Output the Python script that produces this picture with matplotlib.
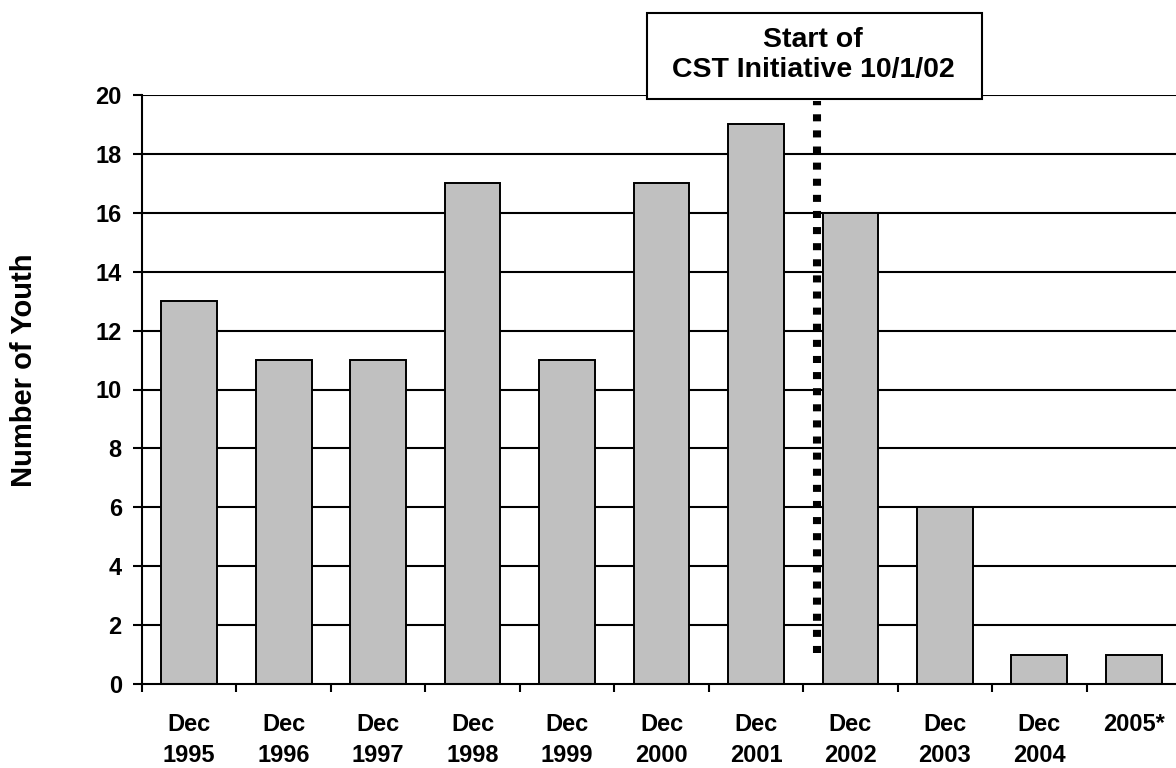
import matplotlib
matplotlib.use("Agg")
import matplotlib.pyplot as plt
from matplotlib.patches import Rectangle

categories = ["Dec\n1995", "Dec\n1996", "Dec\n1997", "Dec\n1998", "Dec\n1999",
              "Dec\n2000", "Dec\n2001", "Dec\n2002", "Dec\n2003", "Dec\n2004", "2005*"]
youth = [13, 11, 11, 17, 11, 17, 19, 16, 6, 1, 1]
y_ticks = list(range(0, 21, 2))
initiative_x = 6.647
initiative_label = "Start of\nCST Initiative 10/1/02"

plt.rcParams["font.family"] = ["Liberation Sans", "DejaVu Sans"]
plt.rcParams["font.weight"] = "bold"

fig = plt.figure(figsize=(11.76, 7.68), dpi=100)
ax = fig.add_axes([142 / 1176, 84 / 768, 1039 / 1176, 589 / 768])

x = list(range(len(categories)))
for t in y_ticks[1:]:
    ax.axhline(t, color="black", lw=1.5, zorder=0)
ax.bar(x, youth, width=0.59, color="#c0c0c0", edgecolor="black", lw=1.4, zorder=2)

# dotted marker for the start of the initiative
ax.plot([initiative_x, initiative_x], [1.05, 19.8], color="black", lw=5.8,
        linestyle=(0, (0.875, 1.125)), dash_capstyle="butt",
        zorder=3, clip_on=False)

ax.set_xlim(-0.5, len(categories) - 0.5)
ax.set_ylim(0, 20)
ax.set_yticks(y_ticks)
ax.set_yticklabels([str(v) for v in y_ticks], fontsize=17, fontweight="bold")
ax.set_xticks([i - 0.5 for i in range(len(categories))])
ax.set_xticklabels([])
ax.set_xticks(x, minor=True)
ax.set_xticklabels(categories, minor=True, fontsize=17, fontweight="bold",
                   linespacing=1.45, va="top")
ax.tick_params(axis="x", which="minor", length=0, pad=21)
ax.tick_params(axis="x", which="major", length=6, width=1.5, direction="out")
ax.tick_params(axis="y", length=6.5, width=1.5, direction="out", pad=8)

for s in ["top", "right"]:
    ax.spines[s].set_visible(False)
ax.spines["left"].set_linewidth(1.5)
ax.spines["bottom"].set_linewidth(1.5)

fig.text(24 / 1176, 1 - 370 / 768, "Number of Youth", rotation=90,
         ha="center", va="center", fontsize=21, fontweight="bold")

fig.patches.append(Rectangle((647 / 1176, 1 - 99 / 768), 335 / 1176, 86 / 768,
                             transform=fig.transFigure, facecolor="white",
                             edgecolor="black", lw=1.5, zorder=5))
fig.text(813 / 1176, 1 - 55 / 768, initiative_label, ha="center", va="center",
         fontsize=20.5, fontweight="bold", linespacing=1.2, zorder=6)

fig.savefig("out.png", dpi=100)
